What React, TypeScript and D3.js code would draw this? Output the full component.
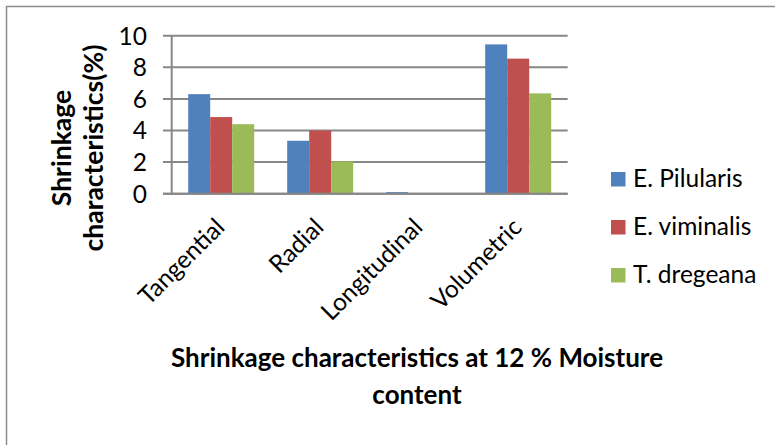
import React from "react";
import * as d3 from "d3";

const categories = ["Tangential", "Radial", "Longitudinal", "Volumetric"];
const seriesNames = ["E. Pilularis", "E. viminalis", "T. dregeana"];
const pilularis = [6.3, 3.35, 0.1, 9.45];
const viminalis = [4.85, 4.0, 0, 8.55];
const dregeana = [4.4, 2.05, 0, 6.35];
const seriesColors = ["#4F81BD", "#C0504D", "#9BBB59"];
const yTicks = [0, 2, 4, 6, 8, 10];

const FONT = "Lato, 'Open Sans', sans-serif";

export default function App() {
  const W = 775, H = 445;
  const x0 = 171.7, x1 = 567.7, yTop = 35.7, yBot = 193.7;
  const values = [pilularis, viminalis, dregeana];
  const x = d3.scaleBand<string>().domain(categories).range([x0, x1]).padding(0);
  const xs = d3.scaleBand<string>().domain(seriesNames).range([0, x.bandwidth()]).paddingInner(0).paddingOuter(0.75);
  const y = d3.scaleLinear().domain([0, 10]).range([yBot, yTop]);
  const gridColor = "#878787";

  return (
    <svg width={W} height={H} style={{ position: "absolute", left: 0, top: 0, background: "#fff" }}>
      <rect x={0} y={0} width={W} height={H} fill="#fff" />
      <rect x={6.5} y={6.5} width={900} height={600} fill="none" stroke="#8c8c8c" strokeWidth={1.5} />
      {yTicks.map((t) => (
        <g key={t}>
          <line x1={163} x2={x1} y1={y(t)} y2={y(t)} stroke={gridColor} strokeWidth={2} />
          <text x={147} y={y(t)} dy="0.36em" textAnchor="end" fontFamily={FONT} fontSize={24.5} fill="#000">{t}</text>
        </g>
      ))}
      <line x1={x0} x2={x0} y1={yTop} y2={yBot + 1} stroke={gridColor} strokeWidth={2} />
      {categories.map((c, ci) => (
        <g key={c}>
          {seriesNames.map((s, si) => {
            const v = values[si][ci];
            if (v <= 0) return null;
            return (
              <rect key={s} x={(x(c) as number) + (xs(s) as number)} y={y(v)} width={xs.bandwidth()} height={yBot - y(v)} fill={seriesColors[si]} />
            );
          })}
        </g>
      ))}
      <line x1={163} x2={x1} y1={yBot} y2={yBot} stroke={gridColor} strokeWidth={2} />
      {categories.map((c) => {
        const cx = (x(c) as number) + x.bandwidth() / 2 + 5;
        const cy = yBot + 35;
        return (
          <text key={c} x={cx} y={cy} textAnchor="end" transform={`rotate(-45 ${cx} ${cy})`} fontFamily={FONT} fontSize={24.5} fill="#000">{c}</text>
        );
      })}
      <g transform="translate(0,148) rotate(-90)">
        <text x={0} y={71} textAnchor="middle" fontFamily={FONT} fontWeight="bold" fontSize={26.5} fill="#000">Shrinkage</text>
        <text x={0} y={103} textAnchor="middle" fontFamily={FONT} fontWeight="bold" fontSize={26.5} fill="#000">characteristics(%)</text>
      </g>
      <text x={417} y={367} textAnchor="middle" fontFamily={FONT} fontWeight="bold" fontSize={26} fill="#000">Shrinkage characteristics at 12 % Moisture</text>
      <text x={417} y={404} textAnchor="middle" fontFamily={FONT} fontWeight="bold" fontSize={26} fill="#000">content</text>
      {seriesNames.map((s, i) => (
        <g key={s} transform={`translate(611,${172 + i * 48})`}>
          <rect x={0} y={0} width={14.5} height={14.5} fill={seriesColors[i]} />
          <text x={22} y={14.5} fontFamily={FONT} fontSize={24.5} fill="#000">{s}</text>
        </g>
      ))}
    </svg>
  );
}
